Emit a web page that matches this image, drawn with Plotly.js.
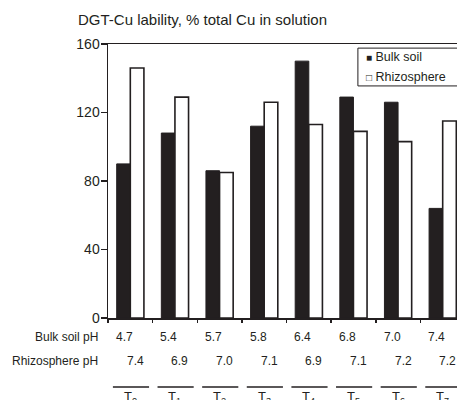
<!DOCTYPE html>
<html>
<head>
<meta charset="utf-8">
<script src="https://cdn.plot.ly/plotly-3.0.1.min.js"></script>
<style>
html,body{margin:0;padding:0;overflow:hidden;background:#fff;}
#chart{width:480px;height:400px;}
</style>
</head>
<body>
<div id="chart"></div>
<script>
// ---- data ----
const categories = ["T0","T1","T2","T3","T4","T5","T6","T7"];
const subscripts = ["0","1","2","3","4","5","6","7"];
const seriesNames = ["Bulk soil","Rhizosphere"];
const bulkValues = [90,108,86,112,150,129,126,64];
const rhizoValues = [146,129,85,126,113,109,103,115];
const bulkPH = ["4.7","5.4","5.7","5.8","6.4","6.8","7.0","7.4"];
const rhizoPH = ["7.4","6.9","7.0","7.1","6.9","7.1","7.2","7.2"];
const rowLabels = ["Bulk soil pH","Rhizosphere pH"];
const titleText = "DGT-Cu lability, % total Cu in solution";
const yTicks = [0,40,80,120,160];

const ink = "#231f20";
const font = "Liberation Sans, Arial, sans-serif";

const traces = [
  {type:"bar", name:seriesNames[0], x:categories, y:bulkValues,
   marker:{color:ink, line:{color:ink, width:1}}, showlegend:false},
  {type:"bar", name:seriesNames[1], x:categories, y:rhizoValues,
   marker:{color:"#ffffff", line:{color:ink, width:1.6}}, showlegend:false}
];

const annotations = [];
const shapes = [];
categories.forEach((c,i)=>{
  annotations.push({xref:"x", yref:"paper", x:c, y:-0.068, text:bulkPH[i], showarrow:false,
    xanchor:"center", yanchor:"middle", xshift:-6, font:{family:font,size:12,color:ink}});
  annotations.push({xref:"x", yref:"paper", x:c, y:-0.158, text:rhizoPH[i], showarrow:false,
    xanchor:"center", yanchor:"middle", xshift:5, font:{family:font,size:12,color:ink}});
  annotations.push({xref:"x", yref:"paper", x:c, y:-0.29, text:"T<sub>"+subscripts[i]+"</sub>", showarrow:false,
    xanchor:"center", yanchor:"middle", font:{family:font,size:13,color:ink}});
  shapes.push({type:"line", xref:"x", yref:"paper", x0:i-0.39, x1:i+0.42, y0:-0.252, y1:-0.252,
    line:{color:ink, width:1.5}});
});
annotations.push({xref:"paper", yref:"paper", x:-0.022, y:-0.068, text:rowLabels[0], showarrow:false,
  xanchor:"right", yanchor:"middle", font:{family:font,size:12,color:ink}});
annotations.push({xref:"paper", yref:"paper", x:-0.022, y:-0.158, text:rowLabels[1], showarrow:false,
  xanchor:"right", yanchor:"middle", font:{family:font,size:12,color:ink}});
// legend
annotations.push({xref:"paper", yref:"paper", x:0.718, y:0.952, text:"<span style='font-size:10px'>■</span> "+seriesNames[0], showarrow:false,
  xanchor:"left", yanchor:"middle", font:{family:font,size:12.5,color:ink}});
annotations.push({xref:"paper", yref:"paper", x:0.718, y:0.881, text:"<span style='font-size:10px'>□</span> "+seriesNames[1], showarrow:false,
  xanchor:"left", yanchor:"middle", font:{family:font,size:12.5,color:ink}});
shapes.push({type:"rect", xref:"paper", yref:"paper", x0:0.700, x1:1.2, y0:0.847, y1:0.985,
  line:{color:ink, width:1}, fillcolor:"#ffffff", layer:"above"});

const layout = {
  width:480, height:400,
  margin:{l:108, r:15, t:44, b:82},
  paper_bgcolor:"#ffffff", plot_bgcolor:"#ffffff",
  title:{text:titleText, x:78/480, xanchor:"left", y:1-20/400, yanchor:"middle",
    font:{family:font, size:15, color:ink}},
  barmode:"group", bargap:0.39, bargroupgap:0,
  xaxis:{type:"category", range:[-0.5,7.5], showticklabels:false, tickson:"boundaries",
    ticks:"outside", ticklen:3, tickwidth:1.5, tickcolor:ink,
    showline:true, linecolor:ink, linewidth:1.5, mirror:true, showgrid:false, zeroline:false, fixedrange:true},
  yaxis:{range:[0,160], tickvals:yTicks, ticks:"outside", ticklen:6, tickwidth:1.5, tickcolor:ink,
    showline:true, linecolor:ink, linewidth:1.5, mirror:true, showgrid:false, zeroline:false,
    tickfont:{family:font, size:14, color:ink}, ticklabelstandoff:-2},
  annotations:annotations, shapes:shapes, showlegend:false
};

Plotly.newPlot("chart", traces, layout, {displayModeBar:false, staticPlot:true});
</script>
</body>
</html>
